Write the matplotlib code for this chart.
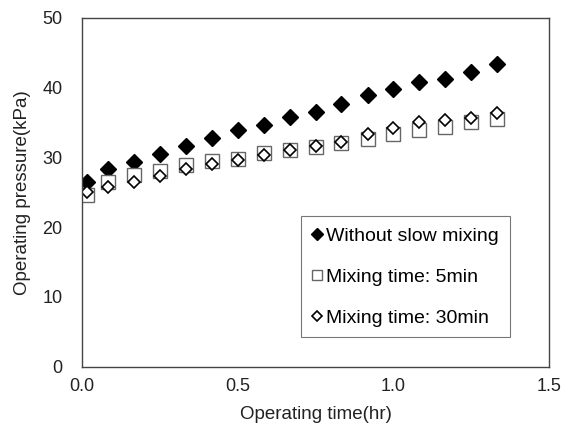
import matplotlib.pyplot as plt

plt.rcParams['font.family'] = ['Liberation Sans', 'DejaVu Sans']

# operating time (hr): first reading at 1 min, then every 5 min
time_hr = [0.017, 0.083, 0.167, 0.25, 0.333, 0.417, 0.5, 0.583, 0.667,
           0.75, 0.833, 0.917, 1.0, 1.083, 1.167, 1.25, 1.333]

no_slow_mixing = [26.5, 28.3, 29.4, 30.5, 31.7, 32.8, 33.9, 34.6, 35.8,
                  36.5, 37.7, 38.9, 39.8, 40.8, 41.2, 42.2, 43.4]
mixing_5min = [24.6, 26.4, 27.5, 28.1, 28.9, 29.5, 29.7, 30.6, 31.0,
               31.5, 32.0, 32.7, 33.4, 33.9, 34.4, 35.0, 35.5]
mixing_30min = [25.0, 25.8, 26.5, 27.3, 28.3, 29.1, 29.6, 30.4, 31.1,
                31.7, 32.2, 33.3, 34.2, 35.0, 35.3, 35.7, 36.4]

fig = plt.figure(figsize=(5.65, 4.34), dpi=100)
ax = fig.add_axes([0.145, 0.155, 0.827, 0.804])

ax.plot(time_hr, no_slow_mixing, 'D', ms=8, mfc='black', mec='black',
        label='Without slow mixing')
ax.plot(time_hr, mixing_5min, 's', ms=9.5, mfc='white', mec='#666666',
        mew=1.0, ls='none', label='Mixing time: 5min')
ax.plot(time_hr, mixing_30min, 'D', ms=6.5, mfc='white', mec='black',
        mew=1.2, ls='none', label='Mixing time: 30min')

ax.set_xlim(0, 1.5)
ax.set_ylim(0, 50)
ax.set_xticks([0.0, 0.5, 1.0, 1.5])
ax.set_xticklabels(['0.0', '0.5', '1.0', '1.5'])
ax.set_yticks([0, 10, 20, 30, 40, 50])
ax.tick_params(labelsize=13, length=0, colors='#222222')
ax.tick_params(axis='x', pad=8)
ax.tick_params(axis='y', pad=14)

for sp in ax.spines.values():
    sp.set_color('#444444')
    sp.set_linewidth(1.0)

ax.set_xlabel('Operating time(hr)', fontsize=13.5, color='#222222', labelpad=8)
ax.set_ylabel('Operating pressure(kPa)', fontsize=13.5, color='#222222', labelpad=8)

leg = ax.legend(loc='upper left', bbox_to_anchor=(0.469, 0.431), fontsize=14,
                markerscale=0.8, handlelength=0.5, handletextpad=0.25,
                labelspacing=1.2, borderpad=0.55, frameon=True, fancybox=False,
                borderaxespad=0)
leg.get_frame().set_edgecolor('#555555')
leg.get_frame().set_linewidth(0.8)

fig.savefig('out.png', dpi=100)
